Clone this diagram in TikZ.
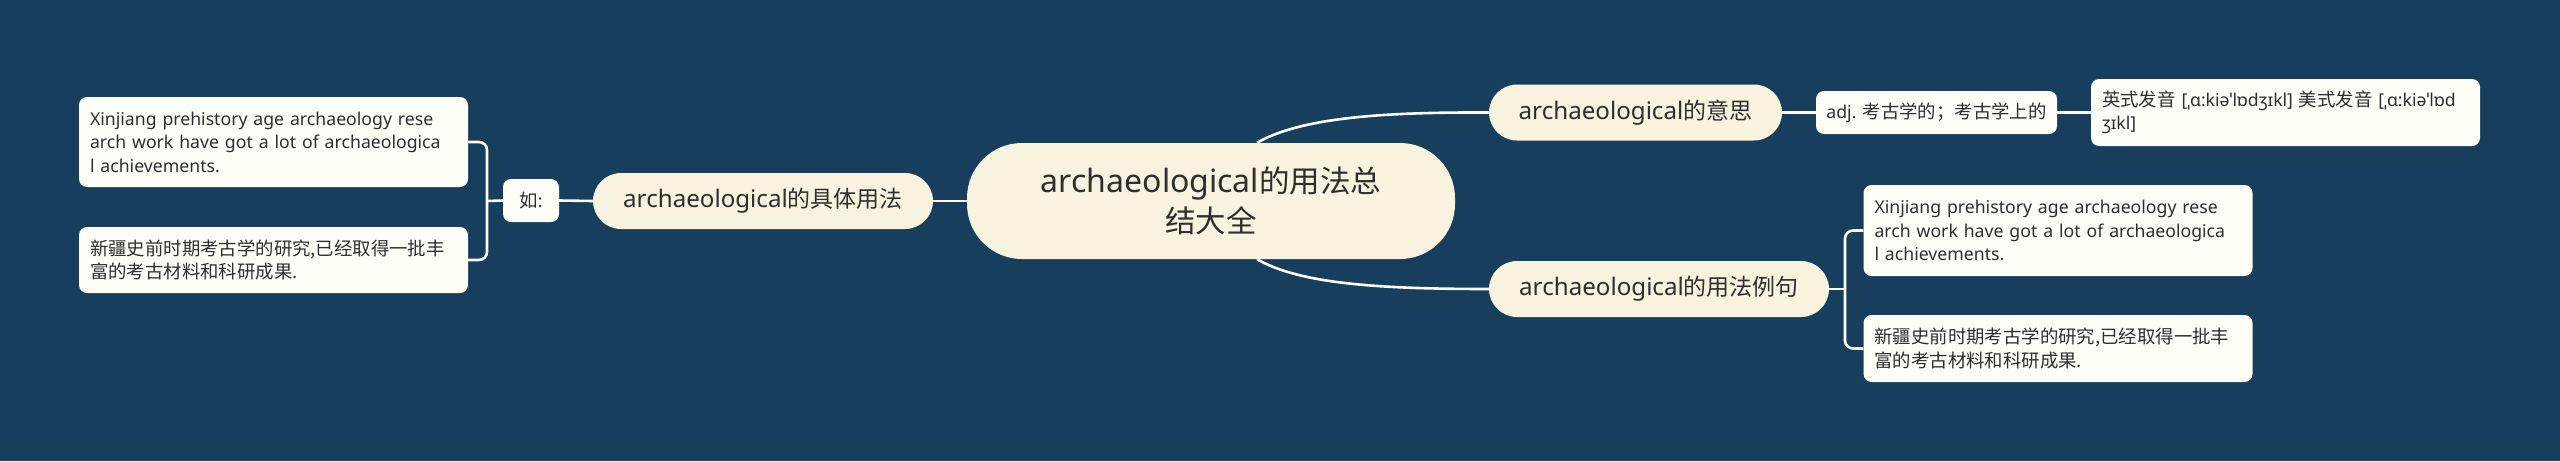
\documentclass[tikz,border=0pt]{standalone}
\usepackage{fontspec}
\setmainfont{Noto Sans}[Scale=1.05]
\newfontfamily\leaflat{Noto Sans}[Scale=0.96]
\newfontfamily\cjk{Noto Sans CJK SC}
\usetikzlibrary{backgrounds}
\definecolor{bgc}{HTML}{183E5E}
\definecolor{cream}{HTML}{F8F3DF}
\definecolor{leaffill}{HTML}{FFFEF7}
\definecolor{txt}{HTML}{2E2E2E}
\begin{document}
\begin{tikzpicture}[x=1pt,y=-1pt,
  conn/.style={draw=white,line width=2.6pt},
  mainnode/.style={fill=cream,rounded corners=55pt,minimum width=488pt,minimum height=116pt,inner sep=0pt,align=center,text=txt,font=\fontsize{30.5}{40}\selectfont},
  topic/.style={fill=cream,rounded corners=28pt,minimum height=56pt,inner sep=0pt,text=txt,font=\fontsize{23}{28}\selectfont},
  leaf/.style={fill=leaffill,rounded corners=8pt,inner sep=0pt,text=txt,align=left,font=\leaflat\fontsize{18.4}{23.5}\selectfont},
  wideleaf/.style={leaf,inner xsep=11pt,text width=367pt},
]
\useasboundingbox (0,0) rectangle (2560,461);
\node[mainnode] (main) at (1211,201) {archaeological{\cjk 的用法总}\\{\cjk 结大全}};
\node[topic,minimum width=340pt] (juti) at (763,201) {archaeological{\cjk 的具体用法}};
\node[leaf,minimum width=56pt,minimum height=43pt] (ru) at (531,200.5) {{\cjk 如}:};
\node[wideleaf,minimum height=90pt] (a1) at (273.5,142) {\mbox{Xinjiang prehistory age archaeology rese}\\\mbox{arch work have got a lot of archaeologica}\\\mbox{l achievements.}};
\node[wideleaf,minimum height=66pt] (a2) at (273.5,260) {{\cjk 新疆史前时期考古学的研究,已经取得一批丰}\\{\cjk 富的考古材料和科研成果.}};
\node[topic,minimum width=293pt] (yisi) at (1635.5,112.5) {archaeological{\cjk 的意思}};
\node[leaf,minimum width=241pt,minimum height=43pt] (adj) at (1936.5,112.5) {adj. {\cjk 考古学的；考古学上的}};
\node[wideleaf,minimum height=67pt] (pron) at (2285.5,112.5) {\mbox{{\cjk 英式发音} [ˌɑ:kiəˈlɒdʒɪkl] {\cjk 美式发音} [ˌɑ:kiəˈlɒd}\\\mbox{ʒɪkl]}};
\node[topic,minimum width=340pt] (liju) at (1659,289) {archaeological{\cjk 的用法例句}};
\node[wideleaf,minimum height=91pt] (b1) at (2058,230.5) {\mbox{Xinjiang prehistory age archaeology rese}\\\mbox{arch work have got a lot of archaeologica}\\\mbox{l achievements.}};
\node[wideleaf,minimum height=67pt] (b2) at (2058,348.5) {{\cjk 新疆史前时期考古学的研究,已经取得一批丰}\\{\cjk 富的考古材料和科研成果.}};
\coordinate (lb) at (487,201);
\coordinate (rb) at (1845,289);
\begin{pgfonlayer}{background}
\fill[bgc] (0,0) rectangle (2560,461);
\draw[conn] (juti.east) -- (main.west);
\draw[conn] (ru.east) -- (juti.west);
\draw[conn] (ru.west) -- (lb);
\draw[conn,rounded corners=8pt] (a1.east) -| (lb) |- (a2.east);
\draw[conn] ([xshift=46pt]main.north) .. controls (1300,118) and (1380,112) .. (yisi.west);
\draw[conn] ([xshift=46pt]main.south) .. controls (1300,284) and (1380,289) .. (liju.west);
\draw[conn] (yisi.east) -- (adj.west);
\draw[conn] (adj.east) -- (pron.west);
\draw[conn] (liju.east) -- (rb);
\draw[conn,rounded corners=8pt] (b1.west) -| (rb) |- (b2.west);
\end{pgfonlayer}
\end{tikzpicture}
\end{document}
